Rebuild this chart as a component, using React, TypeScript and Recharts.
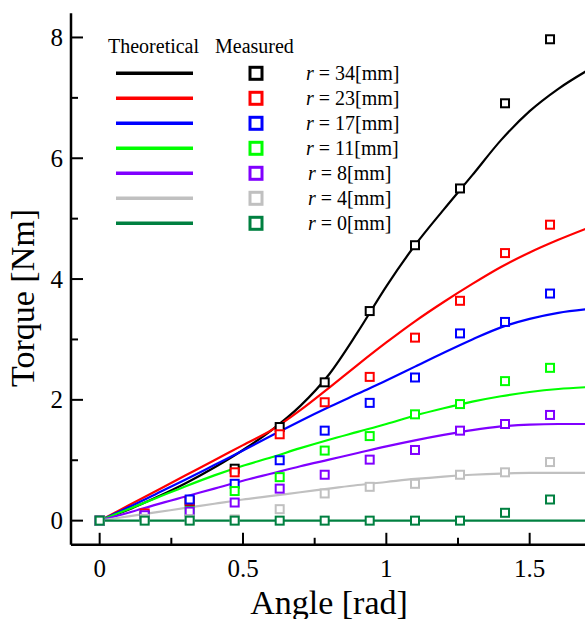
import React from 'react';
import { ComposedChart, Line, Scatter, XAxis, YAxis } from 'recharts';

// theoretical curves, every 0.1 rad
const curveAngles = [0, 0.1, 0.2, 0.3, 0.4, 0.5, 0.6, 0.7, 0.8, 0.9, 1.0, 1.1, 1.2, 1.3, 1.4, 1.5, 1.6, 1.7];
const theoryR34 = [0, 0.18, 0.39, 0.62, 0.88, 1.17, 1.5, 1.9, 2.42, 3.12, 3.88, 4.56, 5.15, 5.72, 6.3, 6.78, 7.15, 7.45];
const theoryR23 = [0, 0.25, 0.5, 0.75, 1.0, 1.25, 1.5, 1.83, 2.2, 2.58, 2.95, 3.3, 3.62, 3.92, 4.2, 4.44, 4.65, 4.84];
const theoryR17 = [0, 0.22, 0.45, 0.68, 0.92, 1.16, 1.41, 1.65, 1.88, 2.1, 2.32, 2.55, 2.78, 3.0, 3.2, 3.34, 3.44, 3.5];
const theoryR11 = [0, 0.19, 0.38, 0.57, 0.75, 0.91, 1.05, 1.2, 1.34, 1.47, 1.6, 1.74, 1.86, 1.97, 2.06, 2.13, 2.18, 2.21];
const theoryR8 = [0, 0.13, 0.27, 0.4, 0.53, 0.66, 0.78, 0.9, 1.01, 1.12, 1.23, 1.33, 1.42, 1.5, 1.56, 1.59, 1.6, 1.6];
const theoryR4 = [0, 0.07, 0.14, 0.21, 0.28, 0.35, 0.41, 0.47, 0.53, 0.59, 0.64, 0.69, 0.73, 0.76, 0.78, 0.79, 0.79, 0.79];
const theoryR0 = [0, 0, 0, 0, 0, 0, 0, 0, 0, 0, 0, 0, 0, 0, 0, 0, 0, 0];

// measured torque
const measuredAngles = [0, 0.157, 0.314, 0.471, 0.628, 0.785, 0.942, 1.1, 1.257, 1.414, 1.571];
const measuredR34 = [0, 0.08, 0.32, 0.86, 1.55, 2.29, 3.47, 4.56, 5.5, 6.91, 7.97];
const measuredR23 = [0, 0.12, 0.33, 0.8, 1.43, 1.96, 2.38, 3.03, 3.64, 4.43, 4.9];
const measuredR17 = [0, 0.07, 0.35, 0.61, 1.0, 1.49, 1.95, 2.37, 3.1, 3.29, 3.76];
const measuredR11 = [0, 0.06, 0.16, 0.49, 0.72, 1.16, 1.4, 1.76, 1.93, 2.31, 2.53];
const measuredR8 = [0, 0.09, 0.15, 0.3, 0.53, 0.76, 1.01, 1.17, 1.49, 1.6, 1.75];
const measuredR4 = [0, 0.03, 0.02, 0.02, 0.19, 0.45, 0.56, 0.61, 0.76, 0.8, 0.97];
const measuredR0 = [0, 0, 0, 0, 0, 0, 0, 0, 0, 0.13, 0.35];

const radii = ['34', '23', '17', '11', '8', '4', '0'];
const colors = ['#000000', '#ff0000', '#0000ff', '#00ff00', '#8000ff', '#c0c0c0', '#008040'];
const theory = [theoryR34, theoryR23, theoryR17, theoryR11, theoryR8, theoryR4, theoryR0];
const measured = [measuredR34, measuredR23, measuredR17, measuredR11, measuredR8, measuredR4, measuredR0];

const xMajor = [0, 0.5, 1, 1.5];
const xMinor = [0.25, 0.75, 1.25];
const yMajor = [0, 2, 4, 6, 8];
const yMinor = [1, 3, 5, 7];

const serif = { fontFamily: 'Liberation Serif' };
const axisLine = { stroke: '#000', strokeWidth: 2.5 };

const BottomTick = ({ x, y, payload }: any) => {
  const major = xMajor.includes(payload.value);
  return (
    <g>
      <line x1={x} x2={x} y1={y} y2={y - (major ? 12 : 7)} stroke="#000" strokeWidth={2} />
      {major && (
        <text x={x} y={y + 32} textAnchor="middle" fontSize={25} style={serif} fill="#000">
          {String(payload.value)}
        </text>
      )}
    </g>
  );
};

const TopTick = ({ x, y, payload }: any) => {
  const major = xMajor.includes(payload.value);
  return <line x1={x} x2={x} y1={y} y2={y + (major ? 12 : 7)} stroke="#000" strokeWidth={2} />;
};

const LeftTick = ({ x, y, payload }: any) => {
  const major = yMajor.includes(payload.value);
  return (
    <g>
      <line x1={x} x2={x + (major ? 12 : 7)} y1={y} y2={y} stroke="#000" strokeWidth={2} />
      {major && (
        <text x={x - 8} y={y + 8.5} textAnchor="end" fontSize={25} style={serif} fill="#000">
          {String(payload.value)}
        </text>
      )}
    </g>
  );
};

const RightTick = ({ x, y, payload }: any) => {
  const major = yMajor.includes(payload.value);
  return <line x1={x} x2={x - (major ? 12 : 7)} y1={y} y2={y} stroke="#000" strokeWidth={2} />;
};

const square = (color: string) => (props: any) => {
  const { cx, cy } = props;
  if (cx == null || cy == null) return <g />;
  return <rect x={cx - 4} y={cy - 4} width={8} height={8} fill="#fff" stroke={color} strokeWidth={2} />;
};

const xTicks = [...xMajor, ...xMinor].sort((a, b) => a - b);
const yTicks = [...yMajor, ...yMinor].sort((a, b) => a - b);

const Legend = () => (
  <g style={serif} fontSize={20} fill="#000">
    <text x={108} y={53}>Theoretical</text>
    <text x={215} y={53}>Measured</text>
    {radii.map((r, i) => {
      const y = 73.3 + i * 25;
      return (
        <g key={r}>
          <line x1={116} x2={193} y1={y} y2={y} stroke={colors[i]} strokeWidth={3.5} />
          <rect x={250} y={y - 6} width={12} height={12} fill="#fff" stroke={colors[i]} strokeWidth={3} />
          <text x={r.length > 1 ? 306 : 308} y={y + 7}>
            <tspan fontStyle="italic">r</tspan> = {r}[mm]
          </text>
        </g>
      );
    })}
  </g>
);

export default function App() {
  return (
    <div style={{ position: 'absolute', left: 0, top: 0, width: 585, height: 619, overflow: 'hidden', background: '#fff' }}>
      <ComposedChart width={600} height={619} margin={{ top: 13.3, right: 13, bottom: 0, left: 0 }}>
        <XAxis
          dataKey="x"
          type="number"
          domain={[-0.1, 1.7]}
          allowDataOverflow
          ticks={xTicks}
          interval={0}
          height={74.2}
          tickSize={0}
          tickMargin={0}
          tickLine={false}
          axisLine={axisLine}
          tick={<BottomTick />}
        />
        <XAxis
          xAxisId="top"
          orientation="top"
          type="number"
          domain={[-0.1, 1.7]}
          allowDataOverflow
          ticks={xTicks}
          interval={0}
          height={0}
          tickSize={0}
          tickMargin={0}
          tickLine={false}
          axisLine={axisLine}
          tick={<TopTick />}
        />
        <YAxis
          dataKey="y"
          type="number"
          domain={[-0.4, 8.4]}
          allowDataOverflow
          ticks={yTicks}
          interval={0}
          width={71}
          tickSize={0}
          tickMargin={0}
          tickLine={false}
          axisLine={axisLine}
          tick={<LeftTick />}
        />
        <YAxis
          yAxisId="right"
          orientation="right"
          type="number"
          domain={[-0.4, 8.4]}
          allowDataOverflow
          ticks={yTicks}
          interval={0}
          width={0}
          tickSize={0}
          tickMargin={0}
          tickLine={false}
          axisLine={axisLine}
          tick={<RightTick />}
        />
        {theory.map((vals, i) => (
          <Line
            key={`t-${radii[i]}`}
            data={curveAngles.map((x, j) => ({ x, y: vals[j] }))}
            dataKey="y"
            type="monotone"
            stroke={colors[i]}
            strokeWidth={2.2}
            dot={false}
            activeDot={false}
            isAnimationActive={false}
          />
        ))}
        {measured.map((vals, i) => (
          <Scatter
            key={`m-${radii[i]}`}
            data={measuredAngles.map((x, j) => ({ x, y: vals[j] }))}
            dataKey="y"
            shape={square(colors[i])}
            isAnimationActive={false}
          />
        ))}
      </ComposedChart>
      <svg width={585} height={619} style={{ position: 'absolute', left: 0, top: 0, pointerEvents: 'none' }}>
        <Legend />
        <text x={329} y={614} textAnchor="middle" fontSize={34} style={serif} fill="#000">
          Angle [rad]
        </text>
        <text transform="translate(34, 298) rotate(-90)" textAnchor="middle" fontSize={34} style={serif} fill="#000">
          Torque [Nm]
        </text>
      </svg>
    </div>
  );
}
